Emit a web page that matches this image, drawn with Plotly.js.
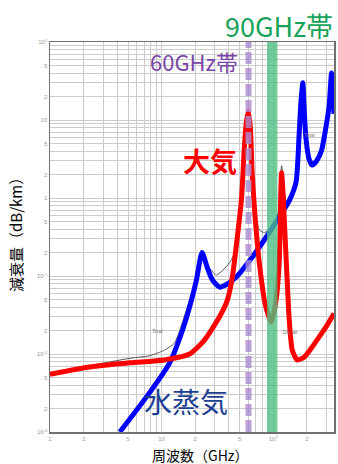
<!DOCTYPE html>
<html>
<head>
<meta charset="utf-8">
<script src="https://cdn.plot.ly/plotly-3.0.1.min.js"></script>
<style>
html,body{margin:0;padding:0;background:#fff;}
#chart{width:338px;height:464px;}
</style>
</head>
<body>
<div id="chart"></div>
<script>
// ---- data (frequency GHz, specific attenuation dB/km) ----
var dryFreq  = [1, 2.28, 5.2, 10.6, 17.8, 24.2, 33, 38.8, 43, 47.7, 52, 55.1, 57.2, 59.8, 62.3, 64.9, 69.1, 75, 85, 96, 106, 113, 118.75, 130.6, 139, 148, 164, 189, 223, 268, 297, 350];
var dryAtten = [0.0055, 0.0068, 0.0077, 0.0084, 0.0100, 0.0151, 0.030, 0.049, 0.097, 0.32, 1.0, 4.5, 9, 13, 8, 1.9, 0.52, 0.147, 0.0425, 0.0257, 0.049, 0.147, 2.1, 0.16, 0.0273, 0.0112, 0.0084, 0.0091, 0.0123, 0.018, 0.0222, 0.033];

var wvFreq  = [4.22, 7.81, 11.8, 15.4, 18.5, 20.5, 23, 25.7, 28.5, 33, 38.8, 46.7, 64.9, 86.6, 113, 140, 160, 170, 177, 184, 190, 197, 210, 223, 245, 271, 300, 316, 333, 350];
var wvAtten = [0.001, 0.0032, 0.0077, 0.0203, 0.049, 0.089, 0.2, 0.127, 0.089, 0.072, 0.079, 0.097, 0.175, 0.316, 0.57, 0.94, 1.6, 6, 17, 30, 12, 5.5, 3.1, 2.65, 3.0, 4.1, 9, 14.7, 40, 12];

var totFreq  = [1, 2.28, 5.2, 7.8, 10.6, 13, 14.5, 16.5, 18.5, 20.5, 23, 25.7, 30.9, 40.4, 47.7, 52, 55.1, 57.2, 59.8, 62.3, 64.9, 69.1, 75, 83.5, 96, 106, 113, 118.75, 130.6, 140, 160, 170, 177, 184, 190, 197, 210, 223, 245, 271, 300, 316, 333, 350];
var totAtten = [0.0056, 0.0071, 0.0088, 0.0095, 0.0112, 0.0138, 0.020, 0.035, 0.058, 0.10, 0.21, 0.14, 0.103, 0.147, 0.24, 1.05, 4.6, 9, 13, 8, 2.1, 0.65, 0.39, 0.36, 0.43, 0.55, 0.72, 2.6, 0.9, 1.03, 1.62, 6, 17, 30, 12, 5.5, 3.1, 2.65, 3.0, 4.1, 9, 14.7, 40, 12];

// ---- tick labels ----
var xLabelVals = [1, 2, 5, 10, 20, 50, 100, 200, 350];
var xLabelText = ["1", "2", "5", "10", "2", "5", "10<sup>2</sup>", "2", "3.5"];
var yLabelVals = [100, 50, 20, 10, 5, 2, 1, 0.5, 0.2, 0.1, 0.05, 0.02, 0.01, 0.005, 0.002, 0.001];
var yLabelText = ["10<sup>2</sup>", "5", "2", "10", "5", "2", "1", "5", "2", "10<sup>-1</sup>", "5", "2", "10<sup>-2</sup>", "5", "2", "10<sup>-3</sup>"];

// gridlines at every mantissa 1..9 of each decade, labels only where listed
function gridTicks(decades, labelVals, labelText, extra, maxVal) {
  var vals = [], text = [];
  decades.forEach(function (d) {
    for (var m = 1; m <= 9; m++) {
      var v = +(m * Math.pow(10, d)).toPrecision(6);
      if (v > maxVal) continue;
      vals.push(v);
      var idx = labelVals.findIndex(function (lv) { return Math.abs(lv - v) / v < 1e-6; });
      text.push(idx >= 0 ? labelText[idx] : "");
    }
  });
  (extra || []).forEach(function (v) {
    vals.push(v);
    var idx = labelVals.indexOf(v);
    text.push(idx >= 0 ? labelText[idx] : "");
  });
  return {vals: vals, text: text};
}
var xt = gridTicks([0, 1, 2], xLabelVals, xLabelText, [350], 349);
var yt = gridTicks([-3, -2, -1, 0, 1], yLabelVals, yLabelText, [100], 99);

var traces = [
  {x: totFreq, y: totAtten, type: 'scatter', mode: 'lines',
   line: {color: '#555555', width: 1, shape: 'spline', smoothing: 0.6}, hoverinfo: 'skip'},
  {x: wvFreq, y: wvAtten, type: 'scatter', mode: 'lines',
   line: {color: '#0000ff', width: 5, shape: 'spline', smoothing: 0.6}, hoverinfo: 'skip'},
  {x: dryFreq, y: dryAtten, type: 'scatter', mode: 'lines',
   line: {color: '#ff0000', width: 5, shape: 'spline', smoothing: 0.6}, hoverinfo: 'skip'}
];

var tickFont = {family: 'Liberation Sans, Arial, sans-serif', size: 6, color: '#999999'};
var jp = '"Noto Sans CJK JP", "Noto Sans", sans-serif';

var layout = {
  width: 338, height: 464,
  margin: {l: 50, r: 4, t: 42, b: 32},
  paper_bgcolor: '#ffffff', plot_bgcolor: '#ffffff',
  showlegend: false,
  xaxis: {
    type: 'log', range: [0, Math.log10(350)],
    tickmode: 'array', tickvals: xt.vals, ticktext: xt.text,
    tickfont: tickFont, ticks: '', showgrid: true, gridcolor: '#cccccc', gridwidth: 1,
    showline: true, linecolor: '#707070', linewidth: 1.5, mirror: true, zeroline: false
  },
  yaxis: {
    type: 'log', range: [-3, 2],
    tickmode: 'array', tickvals: yt.vals, ticktext: yt.text,
    tickfont: tickFont, ticks: '', showgrid: true, gridcolor: '#cccccc', gridwidth: 1,
    showline: true, linecolor: '#707070', linewidth: 1.5, mirror: true, zeroline: false
  },
  shapes: [
    {type: 'rect', xref: 'x', yref: 'paper', x0: 88, x1: 109, y0: 0, y1: 1,
     fillcolor: '#4fbf83', opacity: 0.8, line: {width: 0}, layer: 'above'},
    {type: 'line', xref: 'x', yref: 'paper', x0: 60, x1: 60, y0: 0, y1: 1,
     line: {color: '#a98bd0', width: 6, dash: '12px,4px'}, opacity: 0.8, layer: 'above'}
  ],
  annotations: [
    {text: '90GHz帯', xref: 'paper', yref: 'paper', x: (279 - 50) / 284, y: (432 - 26) / 390,
     showarrow: false, xanchor: 'center', yanchor: 'middle',
     font: {family: jp, size: 27, color: '#17a35a'}},
    {text: '60GHz帯', xref: 'paper', yref: 'paper', x: (194 - 50) / 284, y: (432 - 61) / 390,
     showarrow: false, xanchor: 'center', yanchor: 'middle',
     font: {family: jp, size: 22, color: '#7a45a8'}},
    {text: '<b>大気</b>', xref: 'paper', yref: 'paper', x: (210 - 50) / 284, y: (432 - 160) / 390,
     showarrow: false, xanchor: 'center', yanchor: 'middle',
     font: {family: jp, size: 27, color: '#ff0000'}},
    {text: '水蒸気', xref: 'paper', yref: 'paper', x: (186 - 50) / 284, y: (432 - 401) / 390,
     showarrow: false, xanchor: 'center', yanchor: 'middle',
     font: {family: jp, size: 28, color: '#1c3f94'}},
    {text: '減衰量（dB/km）', xref: 'paper', yref: 'paper', x: (15 - 50) / 284, y: (432 - 231) / 390,
     showarrow: false, textangle: -90, xanchor: 'center', yanchor: 'middle',
     font: {family: jp, size: 15, color: '#000000'}},
    {text: '周波数（GHz）', xref: 'paper', yref: 'paper', x: (200 - 50) / 284, y: (432 - 455) / 390,
     showarrow: false, xanchor: 'center', yanchor: 'middle',
     font: {family: jp, size: 14, color: '#000000'}},
    {text: 'Total', xref: 'paper', yref: 'paper', x: (157 - 50) / 284, y: (432 - 336) / 390,
     showarrow: false, font: {family: 'Liberation Sans, Arial, sans-serif', size: 5, color: '#777777'}},
    {text: 'Total', xref: 'paper', yref: 'paper', x: (317 - 50) / 284, y: (432 - 130) / 390,
     showarrow: false, font: {family: 'Liberation Sans, Arial, sans-serif', size: 5, color: '#777777'}},
    {text: 'Dry air', xref: 'paper', yref: 'paper', x: (300 - 50) / 284, y: (432 - 337) / 390,
     showarrow: false, font: {family: 'Liberation Sans, Arial, sans-serif', size: 5, color: '#777777'}}
  ]
};

Plotly.newPlot('chart', traces, layout, {staticPlot: true, displayModeBar: false});
</script>
</body>
</html>
